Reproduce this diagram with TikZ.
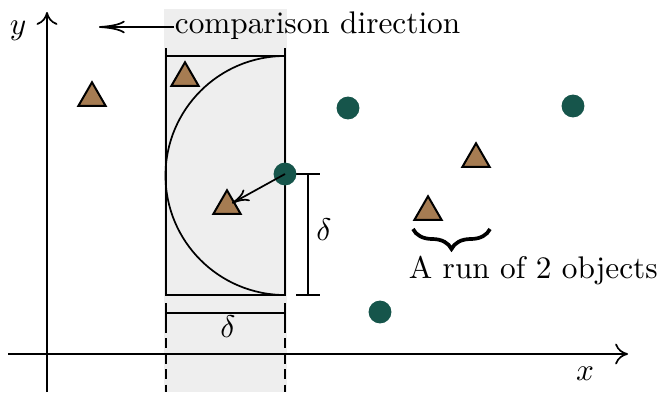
\documentclass[tikz,border=0pt]{standalone}
\usetikzlibrary{shapes.geometric,decorations.pathreplacing,arrows.meta}
\definecolor{tribrown}{RGB}{166,124,82}
\definecolor{dotgreen}{RGB}{22,85,75}
\definecolor{bandgray}{RGB}{238,238,238}
\begin{document}
\begin{tikzpicture}[x=0.35pt,y=-0.35pt,line width=0.6pt,
  tri/.style={regular polygon,regular polygon sides=3,draw=black,fill=tribrown,line width=0.7pt,inner sep=0pt,minimum size=11pt},
  dot/.style={circle,fill=dotgreen,inner sep=0pt,minimum size=8pt},
  lbl/.style={inner sep=0pt,font=\fontsize{10.95}{13}\selectfont},
  axisarrow/.style={-{To[length=4.5pt,width=7.3pt]}},
  longarrow/.style={-{To[length=9pt,width=4.4pt]}},
  midarrow/.style={-{To[length=6pt,width=4.6pt]}}]
\useasboundingbox (0,0) rectangle (657,392);
% shaded band
\fill[bandgray] (164,9) rectangle (287,392);
% box and vertical lines
\draw (166,56) rectangle (285,295);
\draw (166,48) -- (166,295);
\draw (285,48) -- (285,295);
\draw[dash pattern=on 3.5pt off 1.9pt] (166,323) -- (166,392);
\draw[dash pattern=on 3.5pt off 1.9pt] (285,323) -- (285,392);
% semicircle
\draw (285,56) arc[start angle=-90,end angle=-270,radius=119.5];
% axes
\coordinate (xs) at (8,354);
\coordinate (xe) at (628,354);
\coordinate (ys) at (47,392);
\coordinate (ye) at (47,12);
\draw[axisarrow] (xs) -- (xe);
\draw[axisarrow] (ys) -- (ye);
\node[lbl,anchor=base] (xl) at (585,380) {$x$};
\node[lbl,anchor=base] (yl) at (18,34) {$y$};
% comparison direction
\node[lbl,anchor=base west] (cmp) at (174,33) {comparison direction};
\coordinate (cmpend) at (99,27);
\draw[longarrow] (cmp.west |- cmpend) -- (cmpend);
% horizontal delta
\draw (166,303) -- (166,323);
\draw (285,303) -- (285,323);
\draw (166,313) -- (285,313);
\node[lbl] (dh) at (228,327) {$\delta$};
% vertical delta
\draw (296,174) -- (320,174);
\draw (296,295) -- (320,295);
\draw (308,174) -- (308,295);
\node[lbl] (dv) at (324,230) {$\delta$};
% objects
\node[tri] (t1) at (92,98) {};
\node[tri] (t2) at (185,78) {};
\node[tri] (t3) at (227,206) {};
\node[tri] (t4) at (476,159) {};
\node[tri] (t5) at (428,212) {};
\node[dot] (g1) at (348,108) {};
\node[dot] (g2) at (573,106) {};
\node[dot] (g3) at (285,174) {};
\node[dot] (g4) at (380,312) {};
\draw[midarrow,shorten >=2pt] (g3.center) -- (t3.center);
% brace
\coordinate (b1) at (490,229);
\coordinate (b2) at (413,229);
\draw[line width=1.3pt,decorate,decoration={brace,amplitude=7pt}] (b1) -- (b2);
\node[lbl,anchor=base west] (run) at (408,278) {A run of 2 objects};
\end{tikzpicture}
\end{document}
